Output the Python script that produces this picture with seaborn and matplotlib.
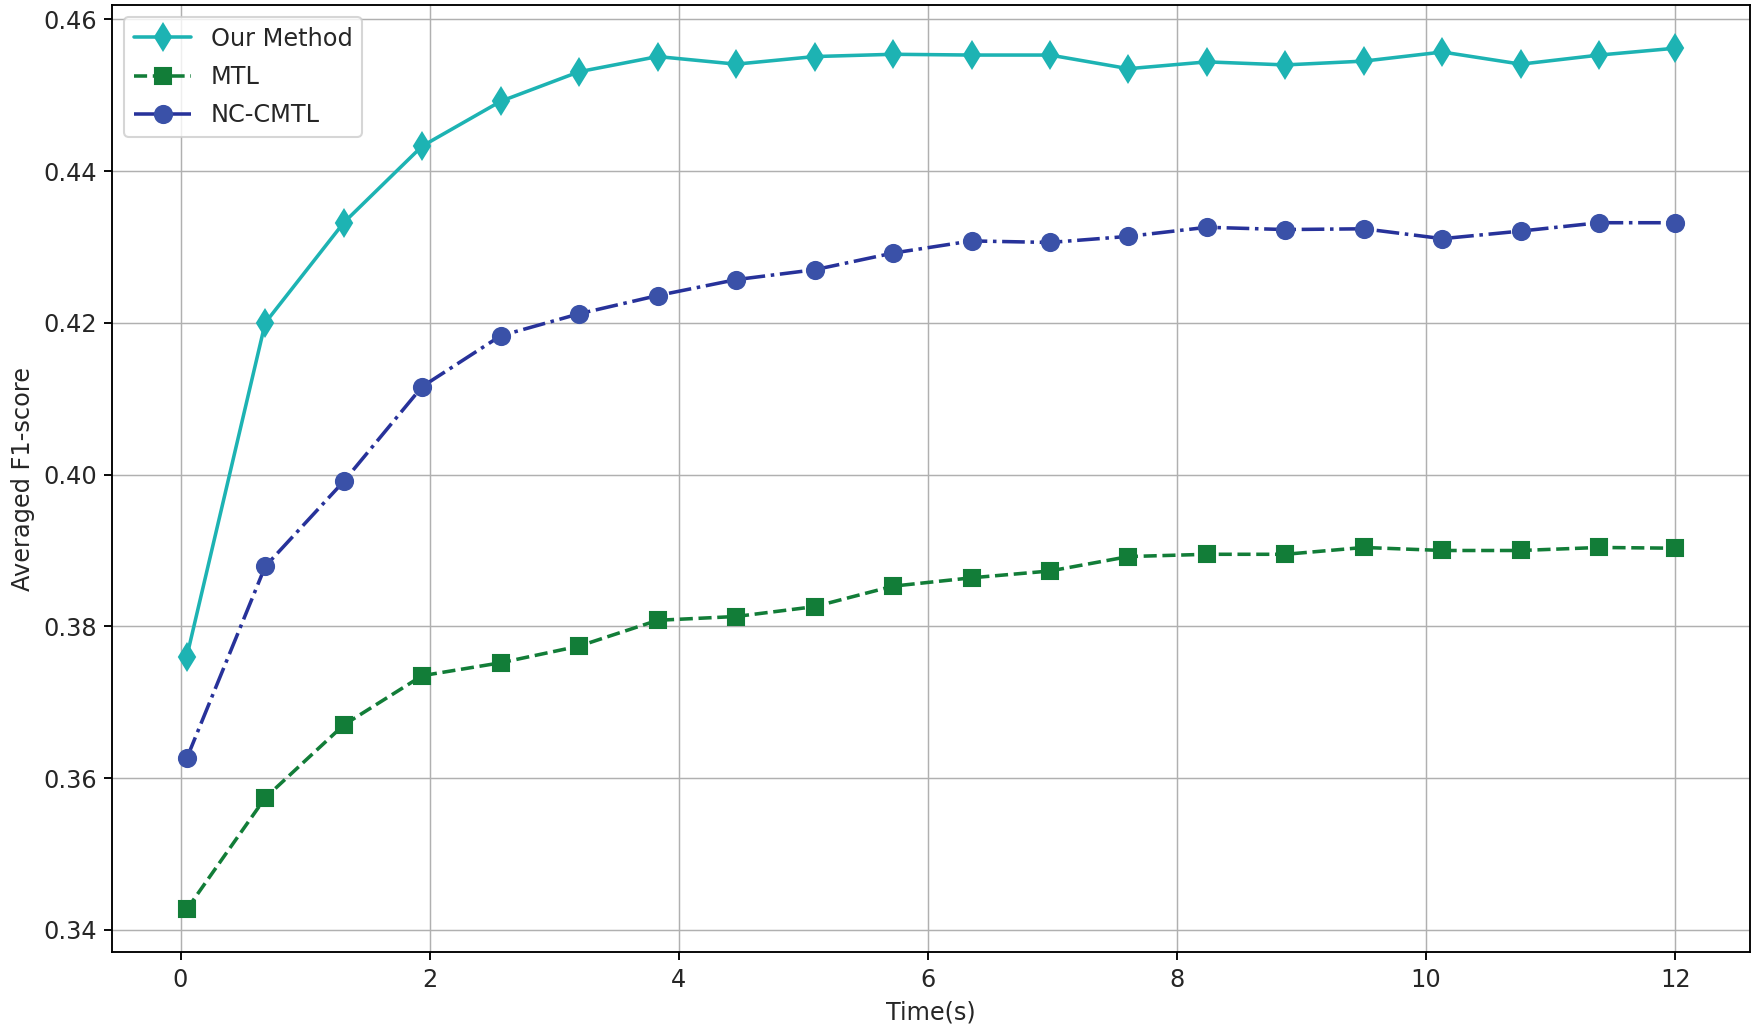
import matplotlib
matplotlib.use("Agg")
import matplotlib.pyplot as plt
import seaborn as sns
import pandas as pd

# values
time_s = [0.05, 0.68, 1.31, 1.94, 2.57, 3.20, 3.83, 4.46, 5.09, 5.72,
          6.35, 6.98, 7.61, 8.24, 8.87, 9.50, 10.13, 10.76, 11.39, 12.0]
our_method = [0.3760, 0.4200, 0.4332, 0.4433, 0.4492, 0.4531, 0.4551, 0.4541, 0.4551, 0.4554,
              0.4553, 0.4553, 0.4535, 0.4544, 0.4540, 0.4545, 0.4557, 0.4541, 0.4553, 0.4562]
mtl = [0.3427, 0.3574, 0.3670, 0.3735, 0.3752, 0.3774, 0.3808, 0.3813, 0.3826, 0.3853,
       0.3864, 0.3873, 0.3892, 0.3895, 0.3895, 0.3904, 0.3900, 0.3900, 0.3904, 0.3903]
nc_cmtl = [0.3626, 0.3879, 0.3991, 0.4116, 0.4183, 0.4212, 0.4236, 0.4257, 0.4270, 0.4292,
           0.4308, 0.4306, 0.4314, 0.4326, 0.4323, 0.4324, 0.4311, 0.4321, 0.4332, 0.4332]

df = pd.DataFrame({"Time": time_s, "Our Method": our_method, "MTL": mtl, "NC-CMTL": nc_cmtl})

sns.set_style("ticks")
plt.rcParams["font.family"] = ["DejaVu Sans"]
fs = 11.5

fig, ax = plt.subplots(figsize=(11.7, 6.8867), dpi=150)

sns.lineplot(data=df, x="Time", y="Our Method", ax=ax, label="Our Method",
             color="#1db3b3", linestyle="-", linewidth=1.7, marker="d", markersize=9,
             markeredgecolor="#1db3b3", markeredgewidth=1)
sns.lineplot(data=df, x="Time", y="MTL", ax=ax, label="MTL",
             color="#127d38", linestyle="--", linewidth=1.7, marker="s", markersize=7.3,
             markeredgecolor="#127d38", markeredgewidth=1)
sns.lineplot(data=df, x="Time", y="NC-CMTL", ax=ax, label="NC-CMTL",
             color="#27329a", linestyle="-.", linewidth=1.7, marker="o", markersize=8.2,
             markerfacecolor="#3a51a8", markeredgecolor="#3a51a8", markeredgewidth=1)

ax.grid(True, color="#b0b0b0", linewidth=0.7)
for s in ax.spines.values():
    s.set_visible(True)
    s.set_linewidth(0.9)
    s.set_color("black")
ax.tick_params(labelsize=fs, length=4, width=0.9, color="black")
ax.set_xlabel("Time(s)", fontsize=fs)
ax.set_ylabel("Averaged F1-score", fontsize=fs)
ax.set_xticks([0, 2, 4, 6, 8, 10, 12])
ax.set_yticks([0.34, 0.36, 0.38, 0.40, 0.42, 0.44, 0.46])
ax.set_yticklabels(["0.34", "0.36", "0.38", "0.40", "0.42", "0.44", "0.46"])
ax.legend(loc="upper left", fontsize=fs, frameon=True, edgecolor="#cccccc",
          handlelength=2.4, labelspacing=0.6)

plt.subplots_adjust(left=0.064, right=0.997, top=0.995, bottom=0.078)
plt.savefig("out.png", dpi=150)
